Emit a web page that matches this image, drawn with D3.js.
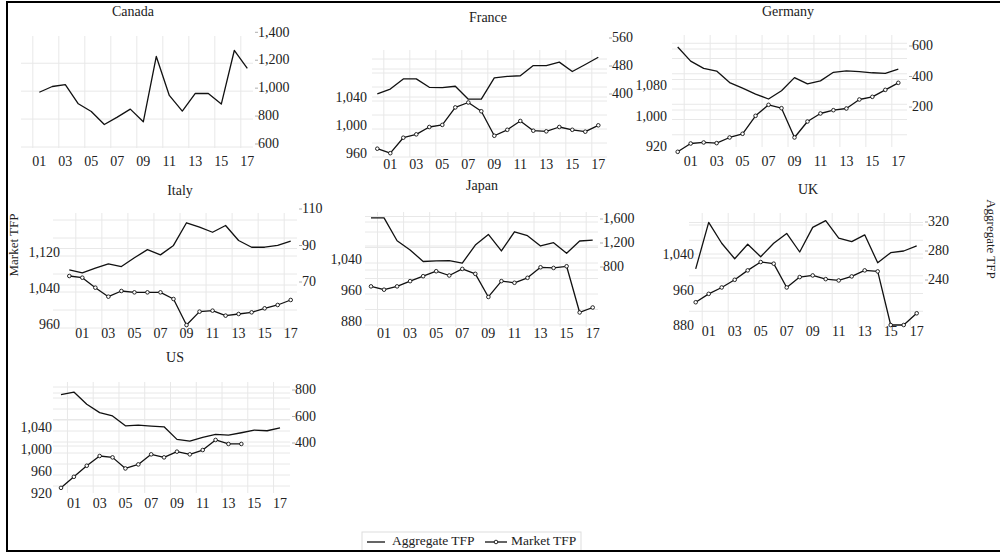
<!DOCTYPE html>
<html lang="en">
<head>
  <meta charset="UTF-8">
  <title>TFP by country</title>
  <script src="https://d3js.org/d3.v7.min.js"></script>
  <style>
    body { margin: 0; background: #fff; }
  </style>
</head>
<body>
  <svg id="chart" width="1000" height="553" font-family="'Liberation Serif', 'DejaVu Serif', 'Times New Roman', Times, serif"></svg>
  <script>
    // years 2000..2017 -> index 0..17
    const years = d3.range(0, 18);
    const yearTicks = [1, 3, 5, 7, 9, 11, 13, 15, 17];
    const yearTickLabels = ["01", "03", "05", "07", "09", "11", "13", "15", "17"];

    // Aggregate TFP (right axis)
    const aggCanada = [null, 978, 1019, 1033, 895, 840, 747, 800, 857, 766, 1234, 955, 843, 969, 969, 893, 1277, 1148];
    const aggFrance = [403, 417, 446, 446, 422, 421, 425, 388, 388, 449, 453, 455, 484, 484, 494, 467, 487, 508];
    const aggGermany = [600, 507, 460, 442, 367, 330, 291, 259, 313, 399, 358, 378, 434, 444, 438, 431, 427, 455];
    const aggItaly = [77.2, 75.5, 78.1, 80.5, 79, 83.8, 88.3, 85.4, 90.6, 103, 100.6, 97.8, 101.5, 93.3, 89.6, 89.6, 90.6, 92.9];
    const aggJapan = [1636, 1636, 1255, 1101, 908, 919, 924, 880, 1183, 1360, 1084, 1404, 1338, 1167, 1222, 1046, 1250, 1266];
    const aggUK = [256.7, 320.9, 292.1, 270.7, 290.7, 273.5, 292.1, 305.6, 280, 313.9, 323.2, 299.1, 294.4, 303.7, 265.1, 279.1, 281.4, 288.4];
    const aggUS = [772, 792, 700, 637, 612, 537, 542, 535, 530, 435, 422, 450, 472, 467, 485, 505, 500, 522];

    // Market TFP (left axis)
    const mktCanada = [];
    const mktFrance = [969, 962.6, 984.7, 989.5, 1000, 1003, 1028, 1035, 1022.5, 987.5, 996, 1008.6, 994.7, 993.8, 1000, 996, 993.3, 1002.4];
    const mktGermany = [910, 931.8, 934.5, 932.8, 947.6, 957.3, 1004.4, 1033.2, 1024.5, 947.6, 989.5, 1010.5, 1019.2, 1023.6, 1047.2, 1054.2, 1072.5, 1090.9];
    const mktItaly = [1071.1, 1067.4, 1045.2, 1025.2, 1037.8, 1034.8, 1034.8, 1034.8, 1020, 962.2, 991.9, 994.1, 983, 986.7, 990.4, 999.3, 1006.7, 1017.8];
    const mktJapan = [974.5, 966, 974.5, 988, 1000.8, 1013.6, 1002.6, 1019.6, 1006.8, 947.2, 988.1, 983.8, 996.6, 1023.8, 1022.1, 1026.4, 907.2, 920];
    const mktUK = [935.8, 954.7, 969.1, 986.4, 1007.6, 1026.4, 1022.7, 969.1, 992.5, 996.2, 987.9, 984.9, 994, 1007.6, 1005.3, 884.5, 884.5, 910.9];
    const mktUS = [933, 953.1, 973.2, 990.9, 988.4, 968.3, 975.6, 993.9, 988.4, 998.8, 993.9, 1001.8, 1020.1, 1012.8, 1012.8];

    // tick labels
    const rightTicksCanada = [600, 800, 1000, 1200, 1400];
    const rightTicksFrance = [400, 480, 560];
    const rightTicksGermany = [200, 400, 600];
    const rightTicksItaly = [70, 90, 110];
    const rightTicksJapan = [800, 1200, 1600];
    const rightTicksUK = [240, 280, 320];
    const rightTicksUS = [400, 600, 800];
    const leftTicksCanada = [];
    const leftTicksFrance = [960, 1000, 1040];
    const leftTicksGermany = [920, 1000, 1080];
    const leftTicksItaly = [960, 1040, 1120];
    const leftTicksJapan = [880, 960, 1040];
    const leftTicksUK = [880, 960, 1040];
    const leftTicksUS = [920, 960, 1000, 1040];

    const svg = d3.select("#chart");
    const fmt = d3.format(",");
    const FS = "14px";

    // panel layout (pixels): plot box, year 0 / 17 positions, two anchor ticks per y axis
    const panels = [
      { name: "Canada", agg: aggCanada, mkt: mktCanada, rt: rightTicksCanada, lt: leftTicksCanada,
        xr: [26.3, 247.3], box: [21, 36, 253, 148], rd: [600, 1400], rr: [145, 33.3], ld: null, lr: null,
        title: [133, 13], xlabY: 163, llx: 0 },
      { name: "France", agg: aggFrance, mkt: mktFrance, rt: rightTicksFrance, lt: leftTicksFrance,
        xr: [377.3, 598.3], box: [372, 50, 607, 157], rd: [400, 560], rr: [95, 39], ld: [960, 1040], lr: [155, 99],
        title: [488, 19], xlabY: 166, llx: 367 },
      { name: "Germany", agg: aggGermany, mkt: mktGermany, rt: rightTicksGermany, lt: leftTicksGermany,
        xr: [677.7, 898.3], box: [672, 35, 907, 147], rd: [200, 600], rr: [108, 47], ld: [920, 1080], lr: [148, 87],
        title: [788, 13], xlabY: 163, llx: 667 },
      { name: "Italy", agg: aggItaly, mkt: mktItaly, rt: rightTicksItaly, lt: leftTicksItaly,
        xr: [69.3, 290.7], box: [53, 213, 297, 330], rd: [70, 110], rr: [283, 210], ld: [960, 1120], lr: [326, 254],
        title: [180, 192], xlabY: 335, llx: 60 },
      { name: "Japan", agg: aggJapan, mkt: mktJapan, rt: rightTicksJapan, lt: leftTicksJapan,
        xr: [371, 592.7], box: [365, 212, 598, 327], rd: [800, 1600], rr: [268, 220], ld: [880, 1040], lr: [323, 261],
        title: [482, 187], xlabY: 335, llx: 362 },
      { name: "UK", agg: aggUK, mkt: mktUK, rt: rightTicksUK, lt: leftTicksUK,
        xr: [695.7, 916.7], box: [689, 213, 923, 327], rd: [240, 320], rr: [281, 223], ld: [880, 1040], lr: [327, 256],
        title: [808, 191], xlabY: 333, llx: 694 },
      { name: "US", agg: aggUS, mkt: mktUS, rt: rightTicksUS, lt: leftTicksUS,
        xr: [61, 280], box: [53, 382, 290, 493], rd: [400, 800], rr: [444, 391], ld: [920, 1040], lr: [495, 429],
        title: [175, 359], xlabY: 505, llx: 52 }
    ];

    panels.forEach(function (p) {
      const g = svg.append("g").attr("class", "panel");
      const x = d3.scaleLinear().domain([0, 17]).range(p.xr);
      const yR = d3.scaleLinear().domain(p.rd).range(p.rr);
      const yL = p.ld ? d3.scaleLinear().domain(p.ld).range(p.lr) : null;
      const [bx0, by0, bx1, by1] = p.box;

      // vertical grid, half a year before each labelled year
      g.selectAll("line.vgrid").data(yearTicks).join("line")
        .attr("x1", d => x(d - 0.5)).attr("x2", d => x(d - 0.5))
        .attr("y1", by0).attr("y2", by1)
        .attr("stroke", "#e8e8e8").attr("stroke-width", 1);

      // horizontal grid: right labelled ticks + left ticks at half steps
      let hy = p.rt.map(v => yR(v) + 2);
      if (yL) {
        const step = (p.lt[1] - p.lt[0]) / 2;
        const vals = d3.range(p.lt[0] - 4 * step, p.lt[p.lt.length - 1] + 6 * step, step);
        hy = hy.concat(vals.map(v => yL(v) + 2));
      }
      g.selectAll("line.hgrid").data(hy.filter(v => v >= by0 + 3 && v <= by1 + 1)).join("line")
        .attr("x1", bx0).attr("x2", bx1)
        .attr("y1", d => d).attr("y2", d => d)
        .attr("stroke", "#e8e8e8").attr("stroke-width", 1);

      // title
      g.append("text").attr("x", p.title[0]).attr("y", p.title[1])
        .attr("text-anchor", "middle").attr("dominant-baseline", "middle")
        .style("font-size", FS).attr("fill", "#222").text(p.name);

      // x tick labels
      g.selectAll("text.xlab").data(yearTicks).join("text")
        .attr("x", d => x(d)).attr("y", p.xlabY)
        .attr("text-anchor", "middle").attr("dominant-baseline", "middle")
        .style("font-size", FS).attr("fill", "#222")
        .text((d, i) => yearTickLabels[i]);

      // right axis labels with a small tick
      g.selectAll("line.rtick").data(p.rt).join("line")
        .attr("x1", bx1 + 2).attr("x2", bx1 + 5)
        .attr("y1", d => yR(d) - 1).attr("y2", d => yR(d) - 1)
        .attr("stroke", "#999").attr("stroke-width", 0.8);
      g.selectAll("text.rlab").data(p.rt).join("text")
        .attr("x", bx1 + 5).attr("y", d => yR(d))
        .attr("dominant-baseline", "middle")
        .style("font-size", FS).attr("fill", "#222").text(d => fmt(d));

      // left axis labels
      if (yL) {
        g.selectAll("text.llab").data(p.lt).join("text")
          .attr("x", p.llx).attr("y", d => yL(d))
          .attr("text-anchor", "end").attr("dominant-baseline", "middle")
          .style("font-size", FS).attr("fill", "#222").text(d => fmt(d));
      }

      // aggregate line
      const aggLine = d3.line()
        .defined(d => d.v != null)
        .x(d => x(d.t)).y(d => yR(d.v));
      const aggData = years.map(t => ({ t: t, v: p.agg[t] == null ? null : p.agg[t] }));
      g.append("path").datum(aggData)
        .attr("d", aggLine)
        .attr("fill", "none").attr("stroke", "#111").attr("stroke-width", 1.3)
        .attr("stroke-linejoin", "round");

      // market line with small open circles
      if (yL && p.mkt.length) {
        const mktData = p.mkt.map((v, t) => ({ t: t, v: v }));
        g.append("path").datum(mktData)
          .attr("d", d3.line().x(d => x(d.t)).y(d => yL(d.v)))
          .attr("fill", "none").attr("stroke", "#111").attr("stroke-width", 1.3)
          .attr("stroke-linejoin", "round");
        g.selectAll("circle.mk").data(mktData).join("circle")
          .attr("cx", d => x(d.t)).attr("cy", d => yL(d.v))
          .attr("r", 1.8)
          .attr("fill", "#fff").attr("stroke", "#111").attr("stroke-width", 0.9);
      }
    });

    // axis titles
    svg.append("text").attr("transform", "translate(15,245) rotate(-90)")
      .attr("text-anchor", "middle").attr("dominant-baseline", "middle")
      .style("font-size", "13px").attr("fill", "#222").text("Market TFP");
    svg.append("text").attr("transform", "translate(990,239) rotate(90)")
      .attr("text-anchor", "middle").attr("dominant-baseline", "middle")
      .style("font-size", "13px").attr("fill", "#222").text("Aggregate TFP");

    // legend
    const leg = svg.append("g");
    leg.append("rect").attr("x", 362).attr("y", 532).attr("width", 219).attr("height", 19)
      .attr("fill", "#fff").attr("stroke", "#ddd").attr("stroke-width", 1);
    leg.append("line").attr("x1", 367).attr("x2", 385).attr("y1", 542).attr("y2", 542)
      .attr("stroke", "#111").attr("stroke-width", 1.3);
    leg.append("text").attr("x", 392).attr("y", 542).attr("dominant-baseline", "middle")
      .style("font-size", "13.5px").attr("fill", "#222").text("Aggregate TFP");
    leg.append("line").attr("x1", 485).attr("x2", 507).attr("y1", 542).attr("y2", 542)
      .attr("stroke", "#111").attr("stroke-width", 1.3);
    leg.append("circle").attr("cx", 496).attr("cy", 542).attr("r", 1.8)
      .attr("fill", "#fff").attr("stroke", "#111").attr("stroke-width", 0.9);
    leg.append("text").attr("x", 511).attr("y", 542).attr("dominant-baseline", "middle")
      .style("font-size", "13.5px").attr("fill", "#222").text("Market TFP");

    // outer frame (right edge runs off the picture)
    svg.append("rect").attr("x", 7).attr("y", 2).attr("width", 1000).attr("height", 549)
      .attr("fill", "none").attr("stroke", "#000").attr("stroke-width", 2);
  </script>
</body>
</html>
